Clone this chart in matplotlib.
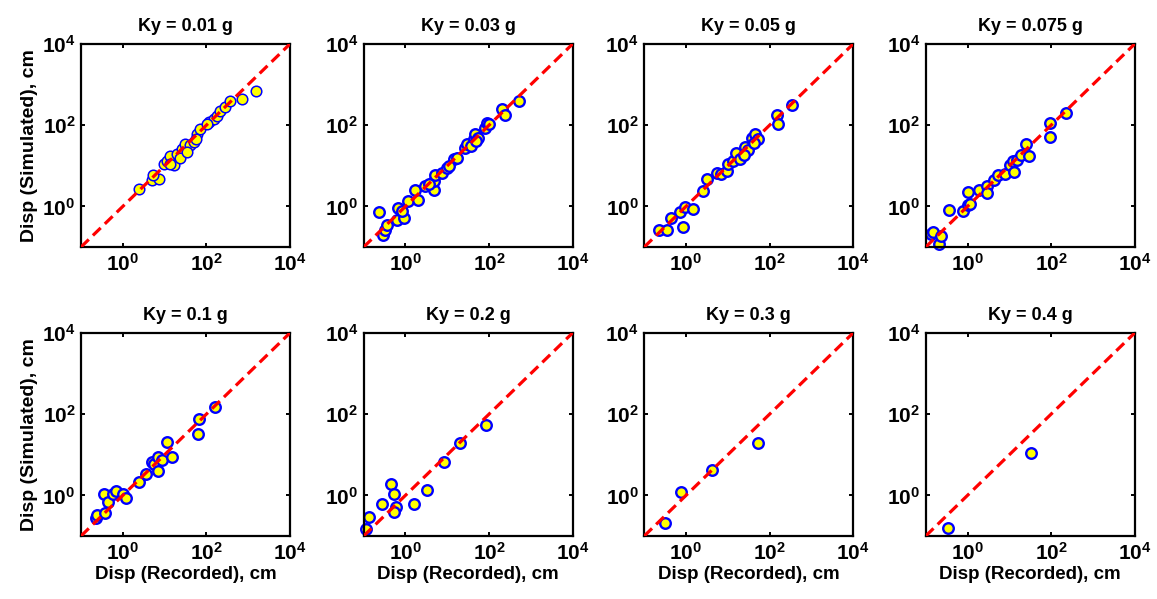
import matplotlib
matplotlib.use("Agg")
import matplotlib.pyplot as plt

plt.rcParams['font.family'] = ['Liberation Sans', 'DejaVu Sans']
plt.rcParams['font.weight'] = 'bold'
plt.rcParams['mathtext.fontset'] = 'custom'
plt.rcParams['mathtext.rm'] = 'Liberation Sans:bold'
plt.rcParams['mathtext.bf'] = 'Liberation Sans:bold'
plt.rcParams['mathtext.it'] = 'Liberation Sans:bold'
plt.rcParams['mathtext.default'] = 'rm'

######## data (recorded vs simulated displacement, cm) ########
titles = ["Ky = 0.01 g", "Ky = 0.03 g", "Ky = 0.05 g", "Ky = 0.075 g",
          "Ky = 0.1 g", "Ky = 0.2 g", "Ky = 0.3 g", "Ky = 0.4 g"]

rec_001 = [2.4, 5.0, 7.2, 5.4, 9.5, 11.4, 16.4, 13.7, 19.8, 26, 31, 41, 50, 60,
           72, 114, 150, 180, 217, 286, 377, 718, 1500, 24, 34, 104, 13.7, 55]
sim_001 = [2.7, 4.4, 4.8, 5.8, 11.2, 13.5, 10.2, 17.9, 19.7, 26, 35, 32, 38, 61,
           81, 119, 143, 173, 230, 277, 405, 445, 711, 16, 22, 108, 11.2, 45]

rec_003 = [0.23, 0.29, 0.33, 0.37, 0.62, 0.68, 0.90, 0.82, 1.18, 2.05, 1.7, 3.0,
           4.7, 4.7, 5.2, 7.4, 9.8, 14.2, 17, 27, 30, 43, 47, 56, 82, 90, 100,
           205, 247, 515, 3.6, 11, 37, 50]
sim_003 = [0.72, 0.20, 0.26, 0.35, 0.47, 0.91, 0.51, 0.75, 1.33, 1.46, 2.6, 3.1,
           2.6, 4.2, 6.1, 6.7, 8.9, 14.4, 16, 28, 34, 45, 60, 49, 87, 116, 105,
           250, 177, 401, 3.5, 10, 30, 40]

rec_005 = [0.23, 0.36, 0.44, 0.72, 0.86, 0.95, 1.44, 2.6, 3.2, 5.6, 6.7, 9.4,
           10.3, 13.5, 16, 20, 26, 31, 37, 45, 54, 147, 161, 348, 42, 24]
sim_005 = [0.26, 0.26, 0.51, 0.71, 0.32, 0.98, 0.84, 2.4, 4.6, 6.6, 6.2, 7.5,
           11, 12.8, 21, 14.7, 29, 24, 48, 62, 46, 178, 110, 310, 36, 18]

rec_0075 = [0.134, 0.15, 0.21, 0.23, 0.37, 0.76, 1.0, 1.16, 1.0, 1.84, 2.9, 2.9,
            4.2, 5.5, 8.0, 10.6, 12.7, 12, 15, 19.4, 25, 29, 96, 96, 229]
sim_0075 = [0.21, 0.24, 0.12, 0.19, 0.81, 0.78, 1.08, 1.14, 2.3, 2.6, 3.2, 2.2,
            4.5, 6.0, 6.3, 10.6, 7.2, 12.8, 14, 18.7, 35, 17.7, 114, 51, 202]

rec_01 = [0.23, 0.24, 0.38, 0.35, 0.44, 0.58, 0.69, 1.0, 1.22, 2.5, 3.5, 4.9,
          5.5, 7.0, 7.0, 8.8, 11.6, 15.3, 67, 64, 158]
sim_01 = [0.27, 0.32, 0.37, 1.1, 0.68, 1.1, 1.26, 1.1, 0.87, 2.1, 3.3, 6.5,
          6.0, 4.0, 8.9, 7.3, 20.7, 8.9, 78, 33, 152]

rec_02 = [0.114, 0.134, 0.27, 0.44, 0.52, 0.60, 0.53, 1.64, 3.25, 8.2, 20.5, 85]
sim_02 = [0.15, 0.30, 0.62, 1.94, 1.06, 0.52, 0.39, 0.62, 1.38, 6.7, 20, 53]

rec_03 = [0.31, 0.75, 4.3, 54]
sim_03 = [0.21, 1.21, 4.1, 20]

rec_04 = [0.35, 33]
sim_04 = [0.156, 11.1]

recorded = [rec_001, rec_003, rec_005, rec_0075, rec_01, rec_02, rec_03, rec_04]
simulated = [sim_001, sim_003, sim_005, sim_0075, sim_01, sim_02, sim_03, sim_04]

one_to_one = [0.1, 1e4]

########## figure ##########
fig = plt.figure(figsize=(11.57, 5.99), dpi=100)

col_left = [0.070, 0.3143, 0.5568, 0.8001]
row_bottom = [0.5876, 0.1052]
ax_w = 0.1806
ax_h = 0.339

for i in range(8):
    r = i // 4
    c = i % 4
    ax = fig.add_axes([col_left[c], row_bottom[r], ax_w, ax_h])

    # first panel has the thin edged markers
    edge_w = 1.1 if i == 0 else 1.7
    ax.plot(recorded[i], simulated[i], 'o', ms=7.6, mfc='yellow', mec='blue',
            mew=edge_w, zorder=2, clip_on=False)
    ax.plot(one_to_one, one_to_one, color='red', lw=2.3, ls='--',
            dashes=(3.4, 1.8), zorder=3)

    ax.set_xscale('log')
    ax.set_yscale('log')
    ax.set_xlim(0.1, 1e4)
    ax.set_ylim(0.1, 1e4)
    ax.set_xticks([1, 100, 1e4])
    ax.set_yticks([1, 100, 1e4])
    ax.set_xticklabels([r'$10^{0}$', r'$10^{2}$', r'$10^{4}$'])
    ax.set_yticklabels([r'$10^{0}$', r'$10^{2}$', r'$10^{4}$'])
    ax.minorticks_off()
    ax.tick_params(which='both', direction='in', top=True, right=True,
                   length=3, width=1.4, labelsize=15, pad=4)
    for sp in ax.spines.values():
        sp.set_linewidth(1.6)

    ax.set_title(titles[i], fontsize=13, fontweight='bold', pad=9)
    if c == 0:
        ax.set_ylabel("Disp (Simulated), cm", fontsize=14, fontweight='bold',
                      labelpad=3)
    if r == 1:
        ax.set_xlabel("Disp (Recorded), cm", fontsize=13.5, fontweight='bold',
                      labelpad=2)

fig.savefig("out.png", dpi=100)
